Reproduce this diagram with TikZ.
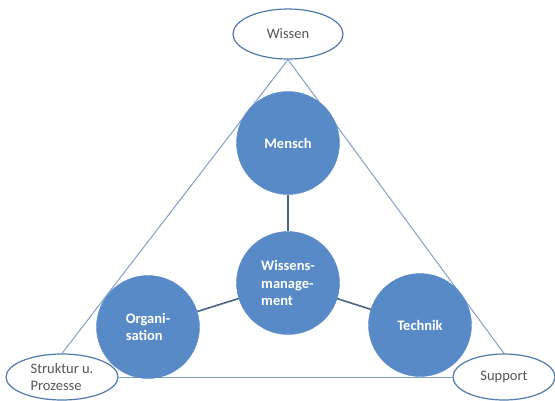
\documentclass[tikz,border=0pt]{standalone}
\usepackage{fontspec}
\setmainfont{Carlito}
\usetikzlibrary{shapes.geometric}
\definecolor{kreisblau}{RGB}{88,138,200}
\definecolor{ovalrand}{RGB}{78,122,175}
\definecolor{dreieckblau}{RGB}{128,160,202}
\definecolor{linienblau}{RGB}{72,100,134}
\definecolor{textgrau}{RGB}{85,85,85}

\begin{document}
\begin{tikzpicture}[x=1pt,y=-1pt,
    kreis/.style={circle,fill=kreisblau,draw=kreisblau,minimum size=103pt,inner sep=0pt,text=white,font=\bfseries\fontsize{14.5}{17.5}\selectfont,align=left},
    oval/.style={ellipse,draw=ovalrand,line width=1.2pt,fill=white,inner sep=0pt,text=textgrau,font=\fontsize{14.5}{16.5}\selectfont,align=left},
    dreieck/.style={draw=dreieckblau,line width=1pt},
    verbindung/.style={draw=linienblau,line width=1.6pt}]
    \useasboundingbox (0,0) rectangle (555,400);

    % Ellipsen
    \node [oval,minimum width=110pt,minimum height=50pt] (wissen) at (288,34) {Wissen};
    \node [oval,minimum width=112pt,minimum height=46pt] (struktur) at (62,377) {Struktur u.\\Prozesse};
    \node [oval,minimum width=102pt,minimum height=46pt] (support) at (504,377) {Support};

    % Dreieck
    \draw [dreieck] (wissen.south) -- (struktur.north);
    \draw [dreieck] (wissen.south) -- (support.north);
    \draw [dreieck] (struktur) -- (support);

    % Kreise
    \node [kreis] (mensch) at (288,143) {Mensch};
    \node [kreis] (wm) at (288,283) {Wissens-\\manage-\\ment};
    \node [kreis] (organisation) at (148,327) {Organi-\\sation};
    \node [kreis] (technik) at (420,325) {Technik};

    % Verbindungen
    \draw [verbindung] (mensch) -- (wm);
    \draw [verbindung] (wm) -- (organisation);
    \draw [verbindung] (wm) -- (technik);
\end{tikzpicture}
\end{document}
